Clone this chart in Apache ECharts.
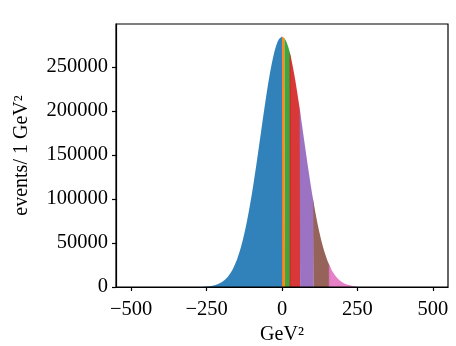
<!DOCTYPE html>
<html>
<head>
<meta charset="utf-8">
<script src="https://cdn.jsdelivr.net/npm/echarts@6/dist/echarts.min.js"></script>
<style>html,body{margin:0;padding:0;background:#fff}#c{width:456px;height:346px}</style>
</head>
<body>
<div id="c"></div>
<script>
// Bin positions (GeV^2) and counts per 1 GeV^2
const rightX = [0, 5, 8, 10, 15, 20, 25, 30, 35, 40, 45, 50, 55, 58, 60, 65, 70, 75, 80, 85, 90, 95, 100, 103, 105, 110, 115, 120, 125, 130, 135, 140, 145, 150, 155, 160, 165, 170, 175, 180, 185, 190, 195, 200, 205, 210, 215, 220, 225, 230, 235, 240, 245, 250, 255, 260];
const rightCounts = [284600, 283900, 282800, 281800, 278300, 273500, 267500, 260300, 252000, 242800, 232800, 222100, 210800, 204200, 199100, 187100, 175000, 162900, 150800, 139000, 127400, 116300, 105500, 99600, 95300, 85700, 76600, 68200, 60400, 53200, 46700, 40700, 35400, 30500, 26300, 22500, 19100, 16200, 13600, 11400, 9500, 7900, 6500, 5400, 4400, 3600, 2900, 2300, 1900, 1500, 1200, 900, 700, 600, 400, 300];
const leftX = [-260, -255, -250, -245, -240, -235, -230, -225, -220, -215, -210, -205, -200, -195, -190, -185, -180, -175, -170, -165, -160, -155, -150, -145, -140, -135, -130, -125, -120, -115, -110, -105, -100, -95, -90, -85, -80, -75, -70, -65, -60, -55, -50, -45, -40, -35, -30, -25, -20, -15, -10, -5];
const leftCounts = [300, 400, 600, 700, 900, 1200, 1500, 1900, 2300, 2900, 3600, 4400, 5400, 6500, 7900, 9500, 11400, 13600, 16200, 19100, 22500, 26300, 30500, 35400, 40700, 46700, 53200, 60400, 68200, 76600, 85700, 95300, 105500, 116300, 127400, 139000, 150800, 162900, 175000, 187100, 199100, 210800, 222100, 232800, 242800, 252000, 260300, 267500, 273500, 278300, 281800, 283900];
// Coloured sub-ranges (edges in GeV^2)
const segEdges = [-260, 0, 8, 25, 58, 103, 155, 260];
const segColors = ['#1f77b4', '#ff7f0e', '#2ca02c', '#d62728', '#9467bd', '#8c564b', '#e377c2'];
const xTicks = [-500, -250, 0, 250, 500];
const yTicks = [0, 50000, 100000, 150000, 200000, 250000];

const xs = leftX.concat(rightX);
const ys = leftCounts.concat(rightCounts);
const pts = xs.map((x, i) => [x, ys[i]]);

const series = [];
for (let s = 0; s < segColors.length; s++) {
  const lo = segEdges[s], hi = segEdges[s + 1];
  const data = [];
  let extra = false;
  for (const p of pts) {
    if (p[0] >= lo && p[0] <= hi) data.push(p);
    else if (p[0] > hi && !extra) { data.push(p); extra = true; } // overlap hidden under next segment
  }
  series.push({
    type: 'line',
    data: data,
    showSymbol: false,
    symbol: 'none',
    lineStyle: { width: 0 },
    areaStyle: { color: segColors[s], opacity: 0.92 },
    z: 2
  });
}

const font = 'Liberation Serif';
const minus = v => String(v).replace('-', '\u2212');

const chart = echarts.init(document.getElementById('c'), null, { renderer: 'canvas' });
chart.setOption({
  animation: false,
  grid: { left: 116, right: 8, top: 24, bottom: 59, outerBoundsMode: 'none', containLabel: false, show: true, borderColor: '#000', borderWidth: 1.2, backgroundColor: 'transparent', z: 5 },
  xAxis: {
    type: 'value', min: -550, max: 550,
    name: 'GeV\u00b2', nameLocation: 'middle', nameGap: 36,
    nameTextStyle: { fontFamily: font, fontSize: 20, color: '#000' },
    axisLine: { show: true, onZero: false, lineStyle: { color: '#000', width: 1.2 } },
    axisTick: { show: true, inside: false, length: 4, customValues: xTicks, lineStyle: { color: '#000', width: 1.2 } },
    axisLabel: { customValues: xTicks, margin: 12, fontFamily: font, fontSize: 20.5, color: '#000', formatter: minus },
    splitLine: { show: false }
  },
  yAxis: {
    type: 'value', min: 0, max: 298800,
    name: 'events/ 1 GeV\u00b2', nameLocation: 'middle', nameGap: 84,
    nameTextStyle: { fontFamily: font, fontSize: 20, color: '#000' },
    axisLine: { show: true, onZero: false, lineStyle: { color: '#000', width: 1.2 } },
    axisTick: { show: true, inside: false, length: 4, customValues: yTicks, lineStyle: { color: '#000', width: 1.2 } },
    axisLabel: { customValues: yTicks, margin: 8, fontFamily: font, fontSize: 20.5, color: '#000', formatter: v => String(v) },
    splitLine: { show: false }
  },
  series: series
});
</script>
</body>
</html>
